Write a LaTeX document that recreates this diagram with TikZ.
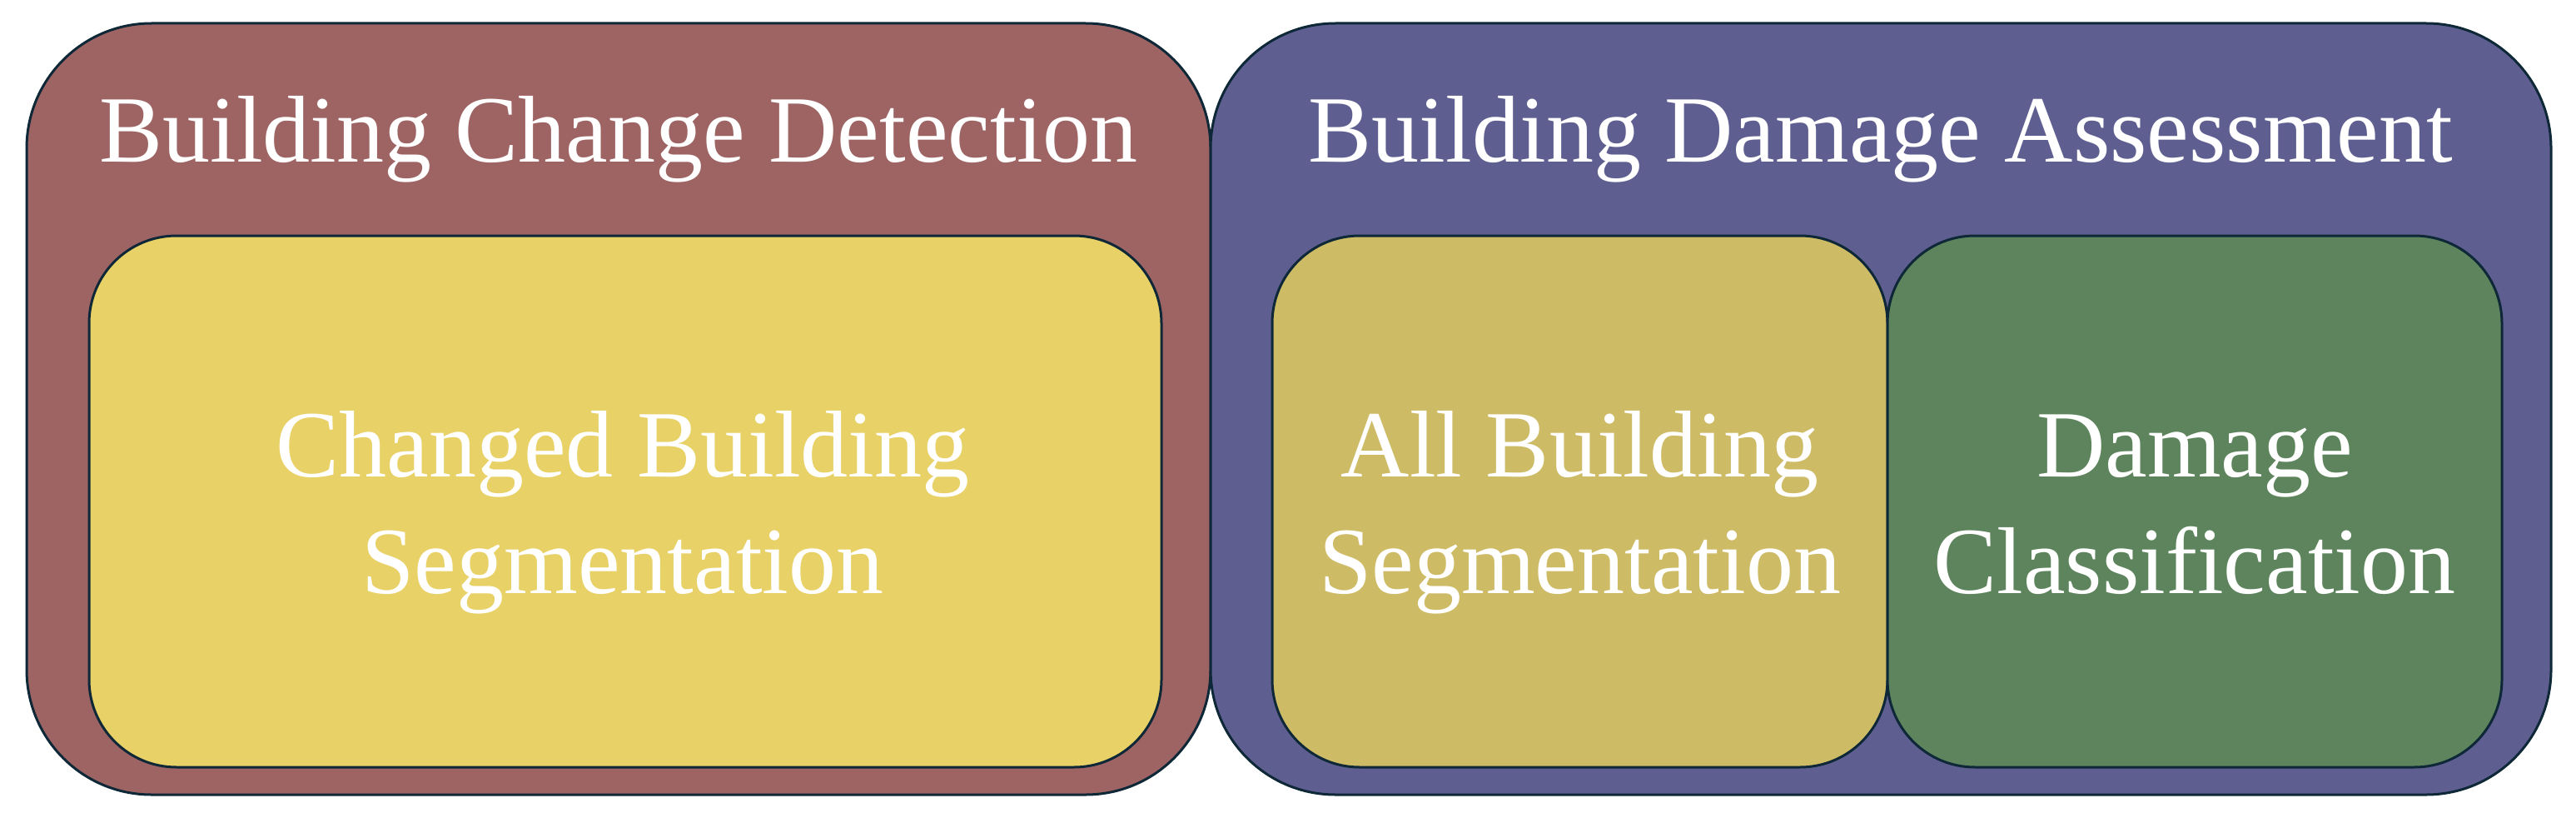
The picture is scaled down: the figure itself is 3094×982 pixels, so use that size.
\documentclass[tikz,border=0pt]{standalone}
\usepackage{fontspec}
\setmainfont{Liberation Serif}
\definecolor{edge}{HTML}{0E2838}
\definecolor{redbox}{HTML}{9E6464}
\definecolor{bluebox}{HTML}{5E5F90}
\definecolor{yellowbox}{HTML}{E8D166}
\definecolor{goldbox}{HTML}{CEBB66}
\definecolor{greenbox}{HTML}{5D845C}
\begin{document}
\begin{tikzpicture}[x=1pt,y=-1pt,
  outerbox/.style={draw=edge, line width=3pt, rectangle, rounded corners=150pt, inner sep=0pt, outer sep=0pt, minimum height=926pt},
  innerbox/.style={draw=edge, line width=3pt, rectangle, rounded corners=105pt, inner sep=0pt, outer sep=0pt, minimum height=638pt},
  lbl/.style={text=white, anchor=base, align=center, inner sep=0pt, font=\fontsize{114}{140}\selectfont}]
\useasboundingbox (0,0) rectangle (3094,982);
\node[outerbox, fill=redbox, minimum width=1422pt] (cd) at (743,491) {};
\node[outerbox, fill=bluebox, minimum width=1610pt] (da) at (2259,491) {};
\node[innerbox, fill=yellowbox, minimum width=1288pt] (cbs) at (751,602) {};
\node[innerbox, fill=goldbox, minimum width=739pt] (abs) at (1897.5,602) {};
\node[innerbox, fill=greenbox, minimum width=738pt] (dc) at (2636,602) {};
\node[lbl] (cdt) at (743,194) {Building Change Detection};
\node[lbl] (dat) at (2259,194) {Building Damage Assessment};
\node[lbl] (cbst) at (748,712) {Changed Building\\Segmentation};
\node[lbl] (abst) at (1897.5,712) {All Building\\Segmentation};
\node[lbl] (dct) at (2636,712) {Damage\\Classification};
\end{tikzpicture}
\end{document}
